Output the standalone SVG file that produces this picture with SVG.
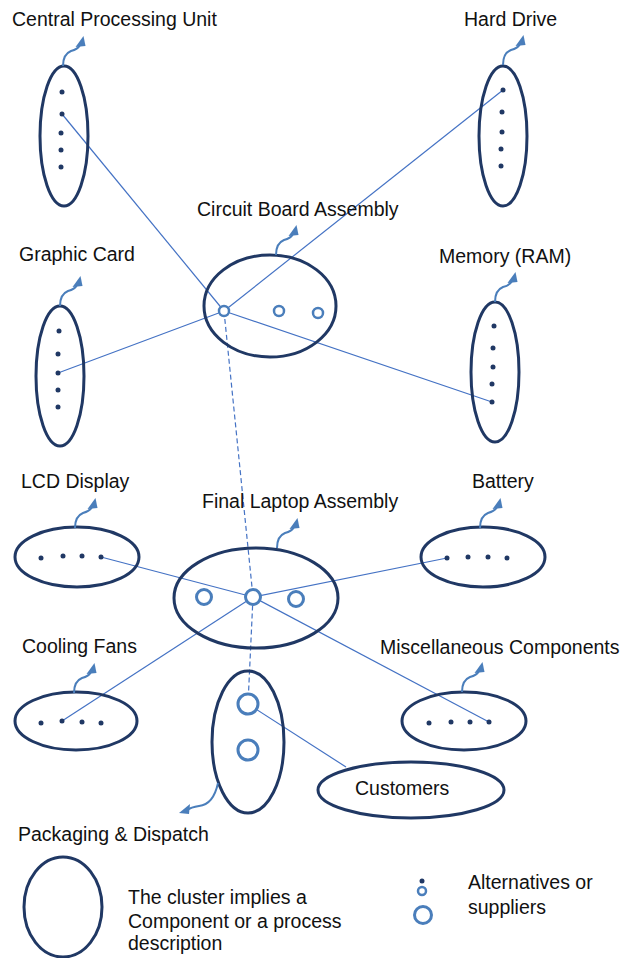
<svg xmlns="http://www.w3.org/2000/svg" width="622" height="958" viewBox="0 0 622 958">
<style>
.cl{fill:none;stroke:#203864;stroke-width:3}
.dot{fill:#203864}
.alt{fill:#fff;stroke:#4a7ebb;stroke-width:3}
.ln{fill:none;stroke:#4472c4;stroke-width:1.2}
.dash{fill:none;stroke:#4472c4;stroke-width:1.2;stroke-dasharray:5,3}
.curl{fill:none;stroke:#4a7ebb;stroke-width:2}
.head{fill:#4a7ebb}
text{font-family:"Liberation Sans",Arial,sans-serif;font-size:19.5px;fill:#111}
</style>
<defs>
<g id="curlArrow">
<path class="curl" d="M0,0 C0,-9 3,-13 8,-15 C12,-16 15,-17 17,-21"/>
<polygon class="head" points="12.5,-19 22.5,-20 20.5,-30"/>
</g>
</defs>
<rect width="622" height="958" fill="#fff"/>

<g id="connectors">
<line class="ln" x1="62" y1="114" x2="224" y2="311"/>
<line class="ln" x1="503" y1="90" x2="224" y2="311"/>
<line class="ln" x1="58" y1="373" x2="224" y2="311"/>
<line class="ln" x1="492" y1="402" x2="224" y2="311"/>
<polyline class="dash" points="224,311 253,597 248,704"/>
<line class="ln" x1="101" y1="557" x2="253" y2="597"/>
<line class="ln" x1="447" y1="558" x2="253" y2="597"/>
<line class="ln" x1="62" y1="721" x2="253" y2="597"/>
<line class="ln" x1="489" y1="722" x2="253" y2="597"/>
<line class="ln" x1="248" y1="704" x2="346" y2="767"/>
</g>

<g id="cpu">
<ellipse class="cl" cx="64" cy="136" rx="24" ry="70"/>
<circle class="dot" cx="62" cy="92" r="2.5"/><circle class="dot" cx="62" cy="114" r="2.5"/><circle class="dot" cx="61" cy="133" r="2.5"/><circle class="dot" cx="61" cy="150" r="2.5"/><circle class="dot" cx="61" cy="167" r="2.5"/>
<use href="#curlArrow" x="63" y="66"/>
<text x="12" y="26">Central Processing Unit</text>
</g>

<g id="hard-drive">
<ellipse class="cl" cx="503" cy="136" rx="24" ry="70"/>
<circle class="dot" cx="503" cy="90" r="2.5"/><circle class="dot" cx="502" cy="112" r="2.5"/><circle class="dot" cx="502" cy="132" r="2.5"/><circle class="dot" cx="501" cy="149" r="2.5"/><circle class="dot" cx="501" cy="166" r="2.5"/>
<use href="#curlArrow" x="503" y="65"/>
<text x="464" y="26">Hard Drive</text>
</g>

<g id="circuit-board">
<ellipse class="cl" cx="270" cy="306" rx="66" ry="51"/>
<circle class="alt" cx="224" cy="311" r="5" style="stroke-width:2.5"/>
<circle class="alt" cx="279" cy="311" r="5" style="stroke-width:2.5"/>
<circle class="alt" cx="318" cy="313" r="5" style="stroke-width:2.5"/>
<use href="#curlArrow" x="276" y="255"/>
<text x="197" y="216">Circuit Board Assembly</text>
</g>

<g id="graphic-card">
<ellipse class="cl" cx="60" cy="376" rx="24" ry="70"/>
<circle class="dot" cx="59" cy="331" r="2.5"/><circle class="dot" cx="58" cy="354" r="2.5"/><circle class="dot" cx="58" cy="373" r="2.5"/><circle class="dot" cx="58" cy="390" r="2.5"/><circle class="dot" cx="58" cy="407" r="2.5"/>
<use href="#curlArrow" x="60" y="306"/>
<text x="19" y="261">Graphic Card</text>
</g>

<g id="memory">
<ellipse class="cl" cx="495" cy="372" rx="24" ry="70"/>
<circle class="dot" cx="494" cy="326" r="2.5"/><circle class="dot" cx="493" cy="348" r="2.5"/><circle class="dot" cx="493" cy="367" r="2.5"/><circle class="dot" cx="492" cy="384" r="2.5"/><circle class="dot" cx="492" cy="402" r="2.5"/>
<use href="#curlArrow" x="495" y="302"/>
<text x="439" y="263">Memory (RAM)</text>
</g>

<g id="lcd">
<ellipse class="cl" cx="77" cy="557" rx="62" ry="30"/>
<circle class="dot" cx="41" cy="558" r="2.5"/><circle class="dot" cx="63" cy="556" r="2.5"/><circle class="dot" cx="82" cy="556" r="2.5"/><circle class="dot" cx="101" cy="557" r="2.5"/>
<use href="#curlArrow" x="75" y="528"/>
<text x="21" y="488">LCD Display</text>
</g>

<g id="final-assembly">
<ellipse class="cl" cx="256" cy="598" rx="82" ry="50"/>
<circle class="alt" cx="204" cy="597" r="7.5"/>
<circle class="alt" cx="253" cy="597" r="7.5"/>
<circle class="alt" cx="296" cy="599" r="7.5"/>
<use href="#curlArrow" x="277" y="548"/>
<text x="202" y="508">Final Laptop Assembly</text>
</g>

<g id="battery">
<ellipse class="cl" cx="483" cy="557" rx="62" ry="30"/>
<circle class="dot" cx="447" cy="558" r="2.5"/><circle class="dot" cx="468" cy="557" r="2.5"/><circle class="dot" cx="488" cy="557" r="2.5"/><circle class="dot" cx="507" cy="558" r="2.5"/>
<use href="#curlArrow" x="480" y="528"/>
<text x="472" y="488">Battery</text>
</g>

<g id="cooling-fans">
<ellipse class="cl" cx="76" cy="721" rx="61" ry="29"/>
<circle class="dot" cx="41" cy="723" r="2.5"/><circle class="dot" cx="62" cy="721" r="2.5"/><circle class="dot" cx="82" cy="722" r="2.5"/><circle class="dot" cx="101" cy="723" r="2.5"/>
<use href="#curlArrow" x="74" y="693"/>
<text x="22" y="653">Cooling Fans</text>
</g>

<g id="misc">
<ellipse class="cl" cx="464" cy="721" rx="62" ry="29"/>
<circle class="dot" cx="429" cy="723" r="2.5"/><circle class="dot" cx="451" cy="722" r="2.5"/><circle class="dot" cx="470" cy="722" r="2.5"/><circle class="dot" cx="489" cy="722" r="2.5"/>
<use href="#curlArrow" x="462" y="692"/>
<text x="380" y="654">Miscellaneous Components</text>
</g>

<g id="packaging">
<ellipse class="cl" cx="248" cy="742" rx="36" ry="71"/>
<circle class="alt" cx="248" cy="704" r="10"/>
<circle class="alt" cx="248" cy="750" r="10"/>
<path class="curl" d="M218,783 C215,797 209,805 199,806 C193,807 190,808 187,810"/>
<polygon class="head" points="190,804 189,814 179,813"/>
<text x="18" y="841">Packaging &amp; Dispatch</text>
</g>

<g id="customers">
<ellipse class="cl" cx="411" cy="790" rx="93" ry="28"/>
<text x="355" y="795">Customers</text>
</g>

<g id="legend">
<ellipse class="cl" cx="63" cy="907" rx="39" ry="50"/>
<text x="128" y="904">The cluster implies a</text>
<text x="128" y="928">Component or a process</text>
<text x="128" y="950">description</text>
<circle class="dot" cx="422" cy="881" r="2.5"/>
<circle class="alt" cx="422" cy="891" r="4" style="stroke-width:2.5"/>
<circle class="alt" cx="423" cy="915" r="8.5"/>
<text x="468" y="889">Alternatives or</text>
<text x="468" y="914">suppliers</text>
</g>
</svg>
